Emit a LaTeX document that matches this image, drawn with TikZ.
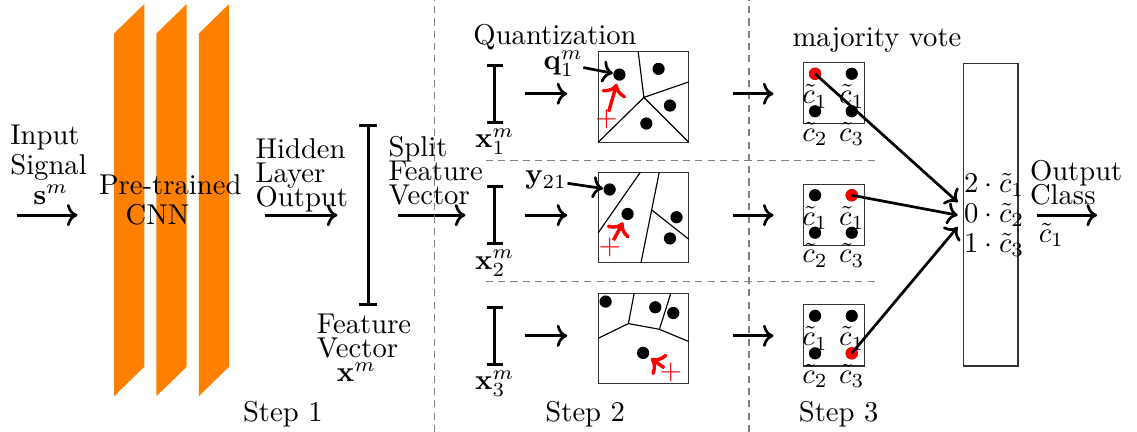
\documentclass[tikz,border=0pt]{standalone}
\usepackage{amsmath}
\usetikzlibrary{positioning}
\usetikzlibrary{arrows.meta}
\newcommand{\tightlines}{\fontsize{10}{8.5}\selectfont\lineskiplimit=-10pt\relax}
\newcommand{\looselines}{\fontsize{10}{10.5}\selectfont\lineskiplimit=-10pt\relax}

\begin{document}
\begin{tikzpicture}[
        txt/.style={inner sep=0pt, align=left, font=\tightlines},
        arr/.style={line width=0.95pt,->},
        redarr/.style={line width=1.2pt, red, ->, shorten <=2.8pt, shorten >=1pt},
        bar/.style={line width=1.05pt,{Bar[width=#1]}-{Bar[width=#1]}},
        dot/.style={circle, fill=black, inner sep=0pt, minimum size=1.5mm},
        rdot/.style={dot, fill=red},
        cross/.style={red, inner sep=0pt},
        sep/.style={gray, dash pattern=on 2.5pt off 1.8pt},
        box/.style={draw=black!80},
    ]
    \useasboundingbox (0,0) rectangle (13.95,5.30);

    % Step 1
    \node[txt, font=\looselines, anchor=north west] (inTxt) at (0.12,3.78) {Input\\Signal\\\hspace*{8pt}$\mathbf{s}^m$};
    \coordinate (inA) at (0.21,2.66);
    \coordinate (inB) at (0.95,2.66);
    \draw[arr] (inA) -- (inB);

    \foreach \x in {1.40,1.92,2.44}
        \fill[orange] (\x,0.44) -- ++(0.37,0.36) -- ++(0,4.45) -- ++(-0.37,-0.36) -- cycle;
    \node[txt, font=\looselines, align=center, anchor=north] (cnnTxt) at (2.09,3.16) {Pre-trained\\\hspace*{-9pt}CNN};

    \node[txt, anchor=north west] (hidTxt) at (3.13,3.61) {Hidden\\Layer\\Output};
    \coordinate (hidA) at (3.25,2.66);
    \coordinate (hidB) at (4.14,2.66);
    \draw[arr] (hidA) -- (hidB);

    \coordinate (featTop) at (4.52,3.78);
    \coordinate (featBot) at (4.52,1.55);
    \draw[bar=2.2mm] (featTop) -- (featBot);
    \node[txt, anchor=north west] (featTxt) at (3.88,1.46) {Feature\\Vector\\\hspace*{7pt}$\mathbf{x}^m$};

    \node[txt, anchor=north west] (splitTxt) at (4.76,3.64) {Split\\Feature\\Vector};
    \coordinate (splitA) at (4.88,2.66);
    \coordinate (splitB) at (5.71,2.66);
    \draw[arr] (splitA) -- (splitB);

    \node[anchor=base] (step1) at (3.47,0.13) {Step 1};

    % Separators
    \draw[sep] (5.33,0) -- (5.33,5.30);
    \draw[sep] (9.19,0) -- (9.19,5.30);
    \draw[sep] (5.96,3.33) -- (10.74,3.33);
    \draw[sep] (5.96,1.85) -- (10.74,1.85);

    % Step 2
    \node[anchor=base] (quantTxt) at (6.81,4.75) {Quantization};
    \foreach \i/\y in {1/4.15,2/2.66,3/1.18} {
        \coordinate (xTop\i) at (6.07,\y+0.37);
        \coordinate (xBot\i) at (6.07,\y-0.37);
        \draw[bar=2mm] (xTop\i) -- (xBot\i);
        \node[inner sep=0pt, below=1.5pt of xBot\i] (xLab\i) {$\mathbf{x}_\i^m$};
        \coordinate (qA\i) at (6.44,\y);
        \coordinate (qB\i) at (6.96,\y);
        \draw[arr] (qA\i) -- (qB\i);
        \coordinate (vA\i) at (8.99,\y);
        \coordinate (vB\i) at (9.49,\y);
        \draw[arr] (vA\i) -- (vB\i);
    }

    \begin{scope}[shift={(7.34,3.555)}]
        \draw[box] (0,0) rectangle (1.11,1.11);
        \draw (0.49,1.11) -- (0.56,0.55) -- (1.11,0.74);
        \draw (0,0) -- (0.56,0.55) -- (1.11,0);
        \node[dot] (d1-a) at (0.26,0.83) {};
        \node[dot] (d1-b) at (0.74,0.90) {};
        \node[dot] (d1-c) at (0.88,0.45) {};
        \node[dot] (d1-d) at (0.59,0.23) {};
        \node[cross] (e1) at (0.10,0.28) {$+$};
    \end{scope}

    \begin{scope}[shift={(7.34,2.075)}]
        \draw[box] (0,0) rectangle (1.11,1.11);
        \draw (0.515,1.11) -- (0,0.37);
        \draw (0.748,1.11) -- (0.524,0);
        \draw (0.655,0.65) -- (1.11,0.29);
        \node[dot] (d2-a) at (0.14,0.90) {};
        \node[dot] (d2-b) at (0.36,0.60) {};
        \node[dot] (d2-c) at (0.96,0.56) {};
        \node[dot] (d2-d) at (0.88,0.30) {};
        \node[cross] (e2) at (0.14,0.19) {$+$};
    \end{scope}

    \begin{scope}[shift={(7.34,0.59)}]
        \draw[box] (0,0) rectangle (1.11,1.11);
        \draw (0,0.56) -- (0.37,0.74) -- (0.44,1.11);
        \draw (0.37,0.74) -- (0.75,0.67) -- (0.89,1.11);
        \draw (0.75,0.67) -- (1.11,0.52);
        \node[dot] (d3-a) at (0.09,1.01) {};
        \node[dot] (d3-b) at (0.70,0.94) {};
        \node[dot] (d3-c) at (0.92,0.87) {};
        \node[dot] (d3-d) at (0.55,0.38) {};
        \node[cross] (e3) at (0.89,0.14) {$+$};
    \end{scope}

    \draw[redarr] (e1.center) -- (d1-a);
    \draw[redarr] (e2.center) -- (d2-b);
    \draw[redarr] (e3.center) -- (d3-d);

    \node[inner sep=0pt] (qLab) at (6.91,4.52) {$\mathbf{q}_1^m$};
    \draw[arr] (qLab) -- (d1-a);
    \node[inner sep=0pt] (yLab) at (6.70,3.09) {$\mathbf{y}_{21}$};
    \draw[arr] (yLab) -- (d2-a);

    \node[anchor=base] (step2) at (7.18,0.13) {Step 2};

    % Step 3
    \node[anchor=base] (voteTxt) at (10.76,4.73) {majority vote};
    \foreach \i/\y in {1/4.15,2/2.66,3/1.18} {
        \draw[box] (9.86,\y-0.37) rectangle ++(0.75,0.75);
        \node[dot] (v\i-a) at (10.00,\y+0.245) {};
        \node[dot] (v\i-b) at (10.45,\y+0.245) {};
        \node[dot] (v\i-c) at (10.00,\y-0.215) {};
        \node[dot] (v\i-d) at (10.45,\y-0.215) {};
        \node[inner sep=0pt, below=1.3pt of v\i-a] {$\tilde{c}_1$};
        \node[inner sep=0pt, below=1.3pt of v\i-b] {$\tilde{c}_1$};
        \node[inner sep=0pt, below=1.3pt of v\i-c] {$\tilde{c}_2$};
        \node[inner sep=0pt, below=1.3pt of v\i-d] {$\tilde{c}_3$};
    }
    \node[rdot] (r1) at (v1-a) {};
    \node[rdot] (r2) at (v2-b) {};
    \node[rdot] (r3) at (v3-d) {};

    \draw[box] (11.82,0.81) rectangle (12.49,4.52);
    \node[inner sep=2pt, align=left, font=\looselines, anchor=west] (votes) at (11.75,2.66) {$2\cdot\tilde{c}_1$\\$0\cdot\tilde{c}_2$\\$1\cdot\tilde{c}_3$};
    \draw[arr] (r1.center) -- ([yshift=1.6mm]votes.west);
    \draw[arr] (r2.center) -- (votes.west);
    \draw[arr] (r3.center) -- ([yshift=-1.45mm]votes.west);

    \node[txt, anchor=north west] (outTxt) at (12.63,3.34) {Output\\Class};
    \coordinate (outA) at (12.72,2.66);
    \coordinate (outB) at (13.46,2.66);
    \draw[arr] (outA) -- (outB);
    \node[inner sep=0pt] (outLab) at (12.90,2.42) {$\tilde{c}_1$};

    \node[anchor=base] (step3) at (10.29,0.13) {Step 3};

\end{tikzpicture}
\end{document}
